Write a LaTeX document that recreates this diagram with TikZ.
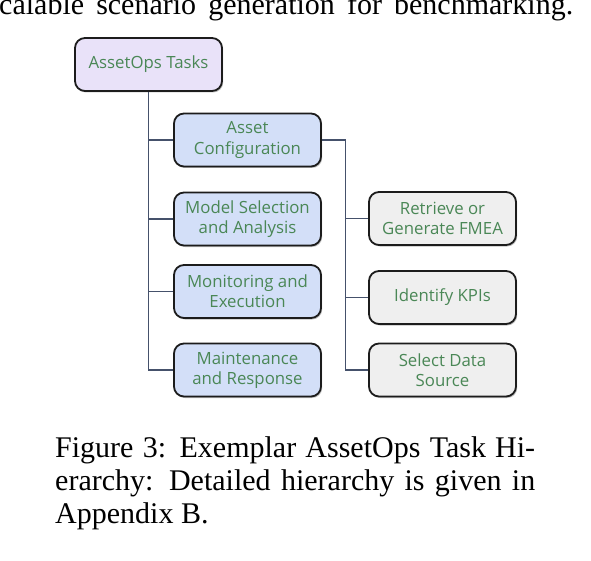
\documentclass[tikz,border=0pt]{standalone}
\usepackage{fontspec}
\setmainfont{Liberation Serif}
\newfontfamily\boxfont{Open Sans}
\usetikzlibrary{shadows,calc}
\definecolor{txtgreen}{HTML}{4A8756}
\definecolor{lavfill}{HTML}{E9E2F9}
\definecolor{bluefill}{HTML}{D3DFF8}
\definecolor{grayfill}{HTML}{EFEFEF}
\definecolor{edgecol}{HTML}{1C1C1C}
\definecolor{linkcol}{HTML}{45516B}
\newcommand{\capsize}{\fontsize{30}{33}\selectfont}
\tikzset{
  taskbox/.style={draw=edgecol, line width=1.8pt, rounded corners=10pt,
    minimum width=147pt, minimum height=53pt, align=center, inner sep=2pt,
    font=\boxfont\fontsize{16.8}{20.2}\selectfont, text=txtgreen,
    drop shadow={shadow xshift=1.2pt, shadow yshift=-1.5pt, opacity=0.25, fill=black}},
  rootbox/.style={taskbox, fill=lavfill},
  midbox/.style={taskbox, fill=bluefill},
  leafbox/.style={taskbox, fill=grayfill},
  link/.style={draw=linkcol, line width=1.3pt},
  captext/.style={anchor=base west, inner sep=0pt, font=\capsize}
}
\begin{document}
\begin{tikzpicture}[x=1pt,y=-1pt]
\useasboundingbox[fill=white] (0,0) rectangle (591,561);
% body text above the figure
\node[captext] (topline) at (-1,15) {\makebox[574pt][s]{calable scenario generation for benchmarking.}};
% boxes
\node[rootbox] (root) at (148.5,64.5) {AssetOps Tasks};
\node[midbox] (ac) at (247.5,140) {Asset\\Configuration};
\node[midbox] (ms) at (247.5,219) {Model Selection\\and Analysis};
\node[midbox] (me) at (247.5,291.5) {Monitoring and\\Execution};
\node[midbox] (mr) at (247.5,370) {Maintenance\\and Response};
\node[leafbox] (rf) at (442.5,218.5) {Retrieve or\\Generate FMEA};
\node[leafbox] (ik) at (442.5,297.5) {Identify KPIs};
\node[leafbox] (sd) at (442.5,370) {Select Data\\Source};
% connectors
\draw[link] (root.south) |- (ac.west);
\draw[link] (root.south) |- (ms.west);
\draw[link] (root.south) |- (me.west);
\draw[link] (root.south) |- (mr.west);
\coordinate (jr) at ($(ac.east)+(23.5,0)$);
\draw[link] (ac.east) -- (jr) |- (rf.west);
\draw[link] (jr) |- (ik.west);
\draw[link] (jr) |- (sd.west);
% caption
\node[captext] (cap1) at (55,457) {\makebox[480pt][s]{Figure 3: Exemplar AssetOps Task Hi-}};
\node[captext] (cap2) at (55,490) {\makebox[480pt][s]{erarchy: Detailed hierarchy is given in}};
\node[captext] (cap3) at (55,523) {Appendix B.};
\end{tikzpicture}
\end{document}
